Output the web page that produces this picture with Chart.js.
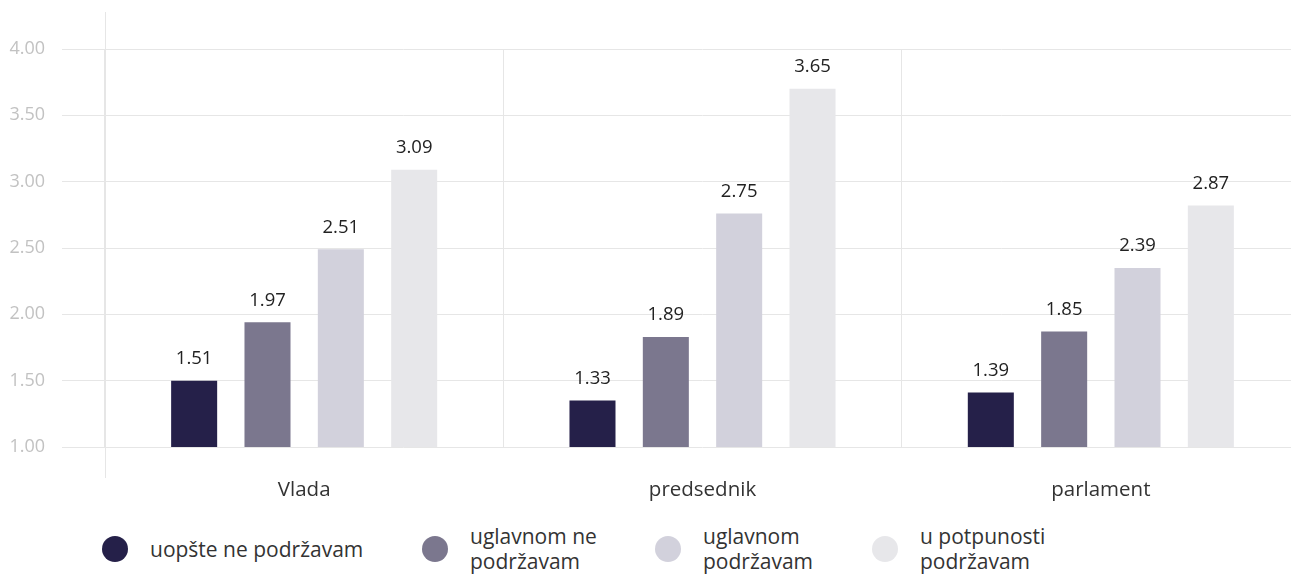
<!DOCTYPE html>
<html>
<head>
<meta charset="utf-8">
<script src="https://cdn.jsdelivr.net/npm/chart.js@4/dist/chart.umd.min.js"></script>
<style>
  html, body { margin: 0; padding: 0; background: #fff; overflow: hidden; width: 1291px; height: 578px; }
  #wrap { position: absolute; left: 0; top: 0; width: 1300px; height: 505px; }
  #legend { position: absolute; left: 102px; top: 524px; display: grid;
            grid-template-columns: 320px 233px 217px auto; font-family: "Open Sans", sans-serif;
            font-size: 21px; color: #333; line-height: 25px; }
  .item { display: flex; align-items: center; }
  .dot { width: 26px; height: 26px; border-radius: 50%; flex: none; margin-right: 22px; }
  .txt { max-width: 150px; }
  .item:first-child .txt { max-width: none; white-space: nowrap; }
</style>
</head>
<body>
<div id="wrap"><canvas id="c"></canvas></div>
<div id="legend"></div>
<script>
const categories = ["Vlada", "predsednik", "parlament"];
const seriesNames = ["uopšte ne podržavam", "uglavnom ne podržavam", "uglavnom podržavam", "u potpunosti podržavam"];
const seriesColors = ["#252049", "#7b778e", "#d2d1dc", "#e7e7ea"];
// bar heights as drawn
const uopsteNe = [1.50, 1.35, 1.41];
const uglavnomNe = [1.94, 1.83, 1.87];
const uglavnom = [2.49, 2.76, 2.35];
const uPotpunosti = [3.09, 3.70, 2.82];
// value labels shown above bars
const uopsteNeLabels = ["1.51", "1.33", "1.39"];
const uglavnomNeLabels = ["1.97", "1.89", "1.85"];
const uglavnomLabels = ["2.51", "2.75", "2.39"];
const uPotpunostiLabels = ["3.09", "3.65", "2.87"];
const yTicks = [1.00, 1.50, 2.00, 2.50, 3.00, 3.50, 4.00];

const seriesValues = [uopsteNe, uglavnomNe, uglavnom, uPotpunosti];
const seriesLabels = [uopsteNeLabels, uglavnomNeLabels, uglavnomLabels, uPotpunostiLabels];

const FONT = "'Open Sans', sans-serif";

const valueLabelPlugin = {
  id: 'valueLabels',
  afterDatasetsDraw(chart) {
    const ctx = chart.ctx;
    ctx.save();
    ctx.font = "18.5px " + FONT;
    ctx.fillStyle = "#222";
    ctx.textAlign = "center";
    ctx.textBaseline = "middle";
    chart.data.datasets.forEach((ds, i) => {
      chart.getDatasetMeta(i).data.forEach((bar, j) => {
        ctx.fillText(seriesLabels[i][j], bar.x, bar.y - 22);
      });
    });
    ctx.restore();
  }
};

const leftLinePlugin = {
  id: 'leftLine',
  beforeDatasetsDraw(chart) {
    const ctx = chart.ctx, a = chart.chartArea;
    ctx.save();
    ctx.strokeStyle = "#e6e6e6";
    ctx.lineWidth = 1;
    ctx.beginPath();
    ctx.moveTo(Math.round(a.left) + 0.5, a.top - 37);
    ctx.lineTo(Math.round(a.left) + 0.5, a.bottom + 31);
    ctx.stroke();
    ctx.restore();
  }
};

new Chart(document.getElementById('c'), {
  type: 'bar',
  data: {
    labels: categories,
    datasets: seriesNames.map((name, i) => ({
      label: name,
      data: seriesValues[i],
      backgroundColor: seriesColors[i],
      categoryPercentage: 0.7365,
      barPercentage: 0.6275
    }))
  },
  options: {
    responsive: true,
    maintainAspectRatio: false,
    animation: false,
    layout: { padding: { top: 49, left: 0, right: 0, bottom: 0 } },
    plugins: { legend: { display: false }, tooltip: { enabled: false } },
    scales: {
      x: {
        grid: { color: "#e6e6e6", drawTicks: false, offset: true },
        border: { display: false },
        ticks: { color: "#333", font: { family: FONT, size: 20.5 }, padding: 31 },
        afterFit(s) { s.height = 58; }
      },
      y: {
        min: 1, max: 4,
        afterBuildTicks(s) { s.ticks = yTicks.map(v => ({ value: v })); },
        grid: { color: "#e6e6e6", drawTicks: true, tickLength: 43 },
        border: { display: false },
        ticks: { color: "#c2c2c2", font: { family: FONT, size: 18 }, padding: 17,
                 callback: v => Number(v).toFixed(2) },
        afterFit(s) { s.width = 105; }
      }
    }
  },
  plugins: [valueLabelPlugin, leftLinePlugin]
});

const legend = document.getElementById('legend');
seriesNames.forEach((name, i) => {
  const item = document.createElement('div');
  item.className = 'item';
  const dot = document.createElement('span');
  dot.className = 'dot';
  dot.style.background = seriesColors[i];
  const t = document.createElement('span');
  t.className = 'txt';
  t.textContent = name;
  item.appendChild(dot); item.appendChild(t);
  legend.appendChild(item);
});
</script>
</body>
</html>
